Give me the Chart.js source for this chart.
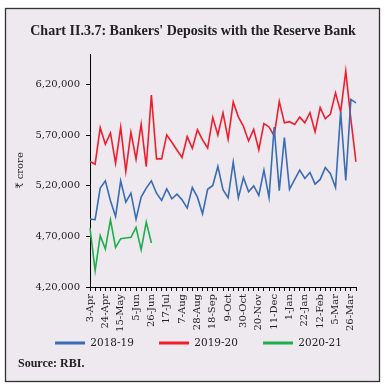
<!DOCTYPE html>
<html><head><meta charset="utf-8">
<script src="https://cdn.jsdelivr.net/npm/chart.js@4.4.1/dist/chart.umd.min.js"></script>
<style>
html,body{margin:0;padding:0;background:#fff;}
#wrap{position:relative;width:385px;height:387px;}
canvas{position:absolute;left:0;top:0;}
#src{position:absolute;left:18px;top:356px;font:bold 12px 'Liberation Serif',serif;color:#222;white-space:nowrap;}
</style>
</head><body>
<div id="wrap"><canvas id="c" width="385" height="387"></canvas><div id="src">Source: RBI.</div></div>
<script>
const categories = ['3-Apr','10-Apr','17-Apr','24-Apr','1-May','8-May','15-May','22-May','29-May','5-Jun','12-Jun','19-Jun','26-Jun','3-Jul','10-Jul','17-Jul','24-Jul','31-Jul','7-Aug','14-Aug','21-Aug','28-Aug','4-Sep','11-Sep','18-Sep','25-Sep','2-Oct','9-Oct','16-Oct','23-Oct','30-Oct','6-Nov','13-Nov','20-Nov','27-Nov','4-Dec','11-Dec','18-Dec','25-Dec','1-Jan','8-Jan','15-Jan','22-Jan','29-Jan','5-Feb','12-Feb','19-Feb','26-Feb','5-Mar','12-Mar','19-Mar','26-Mar','2-Apr'];

const series2018_19 = [487000,486400,517600,524800,505100,489700,524800,503800,512600,487000,508700,517600,524800,512600,505400,516900,507100,511700,506100,497900,518200,508700,492200,516500,520200,539000,516000,508000,543300,508000,528000,514100,519800,510500,535400,508300,578000,515100,567500,516500,526000,535400,527200,533000,521600,526200,537900,531800,518200,592900,525100,605200,601800];

const series2019_20 = [543900,541200,577300,560900,572100,542200,577600,534000,572700,546100,580600,538900,609500,546500,546500,570100,562900,555300,547800,568500,556800,575200,565200,557200,587300,570000,591900,566000,602600,588000,578500,564200,575500,555500,581400,578000,569200,603200,582000,583200,580500,587700,582000,592000,573200,597100,586100,590800,611600,592900,633100,585500,543600];

const series2020_21 = [478200,436200,470600,457500,486400,459100,467700,468300,469000,478800,456800,484100,463400];

const seriesNames = ['2018-19','2019-20','2020-21'];
const yTickValues = [420000,470000,520000,570000,620000];
const yTickLabels = ['4,20,000','4,70,000','5,20,000','5,70,000','6,20,000'];

const LEG_TOP = 312.6;
const LEG_DX = 16.5;
const TITLE_DX = 11;

const framePlugin = {
  id: 'frame',
  beforeDraw(chart) {
    const c = chart.ctx;
    c.save();
    c.fillStyle = '#fff';
    c.fillRect(0, 0, chart.width, chart.height);
    c.fillStyle = '#EDE9EF';
    c.fillRect(5, 8, 375, 374);
    c.strokeStyle = '#333';
    c.lineWidth = 1.3;
    c.strokeRect(5.5, 8.5, 374, 373);
    c.restore();
  },
  afterLayout(chart) {
    const lg = chart.legend;
    if (lg) {
      const h = lg.height;
      lg.top = LEG_TOP; lg.bottom = LEG_TOP + h;
      lg.left += LEG_DX; lg.right += LEG_DX;
    }
    const tb = chart.titleBlock;
    if (tb) { tb.left += TITLE_DX; tb.right += TITLE_DX; }
  }
};

Chart.defaults.font.family = "'DejaVu Serif', serif";
Chart.defaults.color = '#222';

new Chart(document.getElementById('c'), {
  type: 'line',
  data: {
    labels: categories,
    datasets: [
      {label: seriesNames[0], data: series2018_19, borderColor: '#3A6BB5', backgroundColor: '#3A6BB5'},
      {label: seriesNames[1], data: series2019_20, borderColor: '#EF1E2D', backgroundColor: '#EF1E2D'},
      {label: seriesNames[2], data: series2020_21, borderColor: '#1FAE4B', backgroundColor: '#1FAE4B'}
    ]
  },
  options: {
    responsive: false,
    animation: false,
    devicePixelRatio: 1,
    layout: {padding: {left: 8, right: 29, top: 0, bottom: 9.4}},
    elements: {
      line: {borderWidth: 1.6, tension: 0},
      point: {radius: 0, hoverRadius: 0}
    },
    plugins: {
      title: {
        display: true,
        text: "Chart II.3.7: Bankers' Deposits with the Reserve Bank",
        font: {family: "'Liberation Serif', serif", weight: 'bold', size: 14, lineHeight: 1.2},
        color: '#222',
        padding: {top: 22.6, bottom: 14.6}
      },
      legend: {
        position: 'bottom',
        labels: {
          boxWidth: 30,
          boxHeight: 3,
          padding: 25.1,
          font: {size: 10.5},
          color: '#222',
          generateLabels(chart) {
            const items = Chart.defaults.plugins.legend.labels.generateLabels(chart);
            items.forEach(i => { i.lineWidth = 0; i.fillStyle = i.strokeStyle; });
            return items;
          }
        }
      },
      tooltip: {enabled: false}
    },
    scales: {
      x: {
        offset: false,
        grid: {display: true, drawOnChartArea: false, drawTicks: true, tickLength: 4, color: '#000'},
        border: {display: true, color: '#000', width: 1},
        ticks: {
          autoSkip: false, maxRotation: 90, minRotation: 90, padding: 3,
          font: {size: 10}, color: '#222',
          callback: (v, i) => (i % 3 === 0 ? categories[i] : '')
        },
        afterFit(s) { s.height = 45; }
      },
      y: {
        min: 420000, max: 650000,
        grid: {display: true, drawOnChartArea: false, drawTicks: true, tickLength: 4, color: '#000'},
        border: {display: true, color: '#000', width: 1},
        afterBuildTicks(s) { s.ticks = yTickValues.map(v => ({value: v})); },
        ticks: {
          padding: 6, font: {size: 10}, color: '#222',
          callback: (v) => { const k = yTickValues.indexOf(v); return k >= 0 ? yTickLabels[k] : ''; }
        },
        title: {display: true, text: '₹ crore', font: {size: 10, lineHeight: 1.2}, color: '#222', padding: {top: 6, bottom: 0}},
        afterFit(s) { s.width = 82; }
      }
    }
  },
  plugins: [framePlugin]
});
</script>
</body></html>
